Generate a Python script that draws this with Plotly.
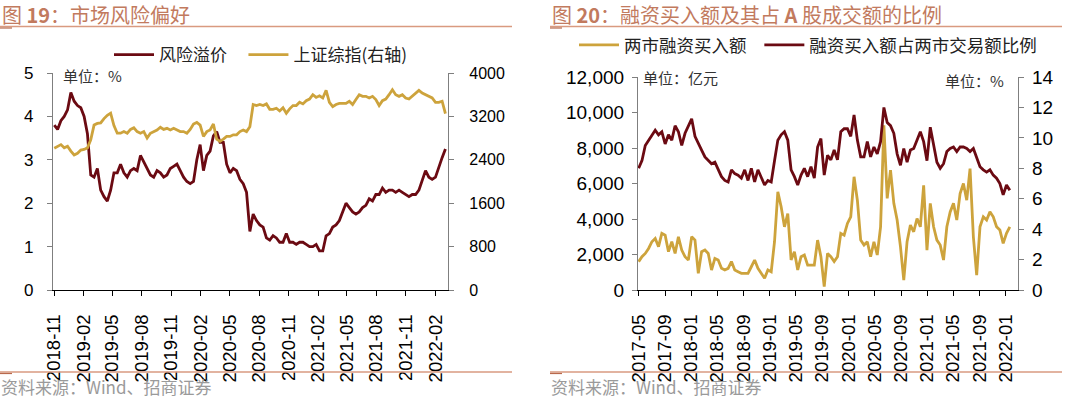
import pandas as pd
import plotly.graph_objects as go
from plotly.subplots import make_subplots

# ---------------- Left panel data (图19) ----------------
left_start = "2018-11-01"
left_end = "2022-03-04"
risk_premium = [
    3.80, 3.70, 3.90, 4.00, 4.15, 4.55, 4.35, 4.25, 4.20, 4.00,
    3.60, 2.65, 2.60, 2.80, 2.30, 2.15, 2.05, 2.30, 2.70, 2.70,
    2.90, 2.70, 2.60, 2.75, 2.80, 2.75, 3.10, 2.95, 2.80, 2.65,
    2.60, 2.75, 2.70, 2.60, 2.65, 2.80, 2.85, 2.90, 2.75, 2.60,
    2.50, 2.45, 2.50, 3.00, 3.35, 2.75, 3.10, 3.20, 3.55, 3.65,
    3.40, 3.40, 2.90, 2.70, 2.80, 2.75, 2.55, 2.45, 2.25, 1.35,
    1.75, 1.60, 1.50, 1.45, 1.20, 1.15, 1.25, 1.20, 1.10, 1.10,
    1.30, 1.10, 1.10, 1.05, 1.10, 1.10, 1.05, 1.00, 1.00, 1.05,
    0.90, 0.90, 1.25, 1.30, 1.45, 1.50, 1.60, 1.80, 2.00, 1.90,
    1.80, 1.75, 1.80, 1.90, 1.95, 2.10, 2.05, 2.20, 2.20, 2.35,
    2.25, 2.30, 2.30, 2.25, 2.30, 2.25, 2.20, 2.15, 2.20, 2.20,
    2.30, 2.55, 2.75, 2.60, 2.55, 2.60, 2.85, 3.05, 3.25,
]
sse_index = [
    2615, 2650, 2680, 2620, 2650, 2560, 2490, 2520, 2580, 2590,
    2620, 2770, 3040, 3070, 3080, 3160, 3220, 3260, 3030, 2890,
    2890, 2920, 2890, 2960, 2990, 2920, 2890, 2920, 2800, 2890,
    2920, 2950, 3000, 2960, 2980, 2950, 2980, 2950, 2920, 2920,
    2890, 2960, 3060, 3090, 3040, 2830, 2920, 2950, 3060, 2780,
    2740, 2780, 2830, 2830, 2860, 2860, 2920, 2950, 2920, 3010,
    3420, 3400, 3420, 3400, 3430, 3330, 3330, 3350, 3300, 3360,
    3260, 3340, 3400, 3400, 3460, 3430, 3490, 3520, 3600, 3550,
    3580, 3540, 3680, 3460, 3380, 3420, 3440, 3440, 3440, 3480,
    3420, 3510, 3600, 3570, 3570, 3540, 3570, 3510, 3400, 3490,
    3520, 3600, 3690, 3600, 3570, 3600, 3540, 3520, 3570, 3630,
    3680, 3630, 3600, 3570, 3540, 3460, 3460, 3480, 3250,
]

# ---------------- Right panel data (图20) ----------------
right_start = "2017-05-01"
right_end = "2022-01-19"
margin_buy = [
    1600, 1875, 2060, 2340, 2720, 2900, 2440, 3190, 3090, 2160,
    2720, 2060, 3000, 2250, 1875, 1690, 3000, 2810, 940, 2160,
    2250, 2060, 1125, 1780, 1690, 1220, 1125, 1220, 1600, 1125,
    1030, 940, 940, 940, 1310, 1690, 1220, 940, 660, 1125,
    1030, 2720, 5530, 4690, 3560, 4310, 1690, 2160, 1125, 1875,
    1970, 1400, 1400, 1400, 2810, 1875, 190, 2060, 1875, 1600,
    1875, 3190, 3090, 3750, 4125, 6380, 5060, 2810, 2530, 2720,
    1875, 2720, 1970, 3560, 9280, 5160, 6750, 4880, 3940, 2440,
    560, 2720, 3660, 3280, 4030, 3560, 5900, 2250, 4880, 3560,
    2810, 2530, 1690, 3560, 4400, 4880, 3940, 5440, 6000, 5060,
    6840, 3000, 840, 3560, 4125, 3940, 4400, 4125, 3560, 3375,
    2625, 3190, 3560,
]
margin_ratio = [
    8.00, 8.50, 9.50, 9.85, 10.2, 10.5, 10.2, 10.4, 9.60, 10.2,
    9.85, 10.8, 10.4, 9.50, 10.3, 10.8, 11.25, 10.1, 9.60, 9.20,
    8.75, 8.50, 8.30, 8.40, 7.90, 7.45, 7.20, 7.10, 7.90, 7.65,
    7.55, 7.35, 7.90, 7.20, 8.00, 7.10, 7.90, 7.45, 6.90, 7.20,
    7.10, 8.50, 9.85, 10.2, 10.4, 9.85, 7.90, 7.45, 6.90, 7.55,
    8.00, 7.45, 8.10, 7.35, 9.40, 9.95, 7.55, 8.85, 8.55, 9.20,
    8.55, 10.4, 10.6, 10.6, 10.1, 11.5, 9.85, 8.75, 8.75, 9.75,
    8.75, 9.40, 8.95, 9.75, 12.0, 11.0, 10.8, 10.3, 8.95, 8.20,
    9.30, 8.40, 9.20, 9.30, 9.85, 10.4, 9.75, 8.50, 10.7, 9.50,
    8.40, 8.00, 8.30, 9.10, 9.30, 9.40, 9.10, 9.40, 9.40, 9.30,
    9.10, 9.30, 8.75, 8.10, 7.90, 7.75, 7.90, 7.55, 7.35, 7.00,
    6.25, 6.90, 6.55,
]

left_dates = pd.date_range(left_start, left_end, periods=len(risk_premium))
left_dates_sse = pd.date_range(left_start, left_end, periods=len(sse_index))
right_dates = pd.date_range(right_start, right_end, periods=len(margin_buy))
right_dates_ratio = pd.date_range(right_start, right_end, periods=len(margin_ratio))

RED = "#6B0A12"
GOLD = "#CDA33C"
TITLE_C = "#C27A5E"
FONT = "'Liberation Sans', Arial, 'Noto Sans CJK SC', sans-serif"
CJK = "'Noto Sans CJK SC', 'Liberation Sans', sans-serif"
NB = "\u00a0"

fig = make_subplots(rows=1, cols=2, specs=[[{"secondary_y": True}, {"secondary_y": True}]])

LW = 2.8
fig.add_trace(go.Scatter(x=left_dates, y=risk_premium, name="风险溢价" + NB * 3, mode="lines",
                         line=dict(color=RED, width=LW), legend="legend"),
              row=1, col=1, secondary_y=False)
fig.add_trace(go.Scatter(x=left_dates_sse, y=sse_index, name="上证综指(右轴)", mode="lines",
                         line=dict(color=GOLD, width=LW), legend="legend"),
              row=1, col=1, secondary_y=True)
fig.add_trace(go.Scatter(x=right_dates, y=margin_buy, name="两市融资买入额" + NB * 2, mode="lines",
                         line=dict(color=GOLD, width=LW), legend="legend2"),
              row=1, col=2, secondary_y=False)
fig.add_trace(go.Scatter(x=right_dates_ratio, y=margin_ratio, name="融资买入额占两市交易额比例", mode="lines",
                         line=dict(color=RED, width=LW), legend="legend2"),
              row=1, col=2, secondary_y=True)

H = 398.0
W = 1080.0
def py(p):
    return 1 - p / H
def px(p):
    return p / W

ydom_l = [py(290), py(73)]
ydom_r = [py(290), py(77)]

axis_common = dict(showgrid=False, zeroline=False, showline=True, ticks="outside",
                   ticklen=5, tickcolor="#7F7F7F", linecolor="#7F7F7F", linewidth=1.2,
                   automargin=False)
xaxis_common = dict(axis_common, linecolor="#000000", tickcolor="#000000",
                    type="date", tickformat="%Y-%m", tickangle=-90, ticklabelstandoff=11,
                    tickfont=dict(size=18.5, family=FONT))

fig.update_layout(
    width=1080, height=398,
    margin=dict(l=0, r=0, t=0, b=0, autoexpand=False),
    paper_bgcolor="white", plot_bgcolor="white",
    font=dict(family=FONT, color="#000000"),
    xaxis=dict(domain=[px(53), px(448)], range=["2018-10-28", "2022-03-12"],
               tick0="2018-11-01", dtick="M3", **xaxis_common),
    yaxis=dict(domain=ydom_l, range=[0, 5], dtick=1, tickfont=dict(size=17),
               ticklabelstandoff=10, **axis_common),
    yaxis2=dict(range=[0, 4000], dtick=800, tickfont=dict(size=16),
                ticklabelstandoff=12, **axis_common),
    xaxis2=dict(domain=[px(638), px(1018)], range=["2017-04-28", "2022-02-26"],
                tick0="2017-05-01", dtick="M4", **xaxis_common),
    yaxis3=dict(domain=ydom_r, range=[0, 12000], dtick=2000, tickformat=",",
                tickfont=dict(size=19), ticklabelstandoff=4, **axis_common),
    yaxis4=dict(range=[0, 14], dtick=2, tickfont=dict(size=19),
                ticklabelstandoff=4, **axis_common),
    legend=dict(orientation="h", x=px(109), y=py(37), xanchor="left", yanchor="top",
                font=dict(size=17, family=CJK, color="#222222"), bgcolor="rgba(0,0,0,0)",
                itemwidth=40, tracegroupgap=0),
    legend2=dict(orientation="h", x=px(574), y=py(27), xanchor="left", yanchor="top",
                 font=dict(size=17.5, family=CJK, color="#222222"), bgcolor="rgba(0,0,0,0)",
                 itemwidth=40, tracegroupgap=0),
)

fig.layout.yaxis2.update(overlaying="y", side="right", anchor="x")
fig.layout.yaxis4.update(overlaying="y3", side="right", anchor="x2")
fig.layout.yaxis3.update(anchor="x2")
fig.layout.xaxis2.update(anchor="y3")

annotations = [
    dict(x=px(1), y=py(14), text="图 <b>19</b>：市场风险偏好", font=dict(size=20, color=TITLE_C, family=CJK)),
    dict(x=px(551), y=py(14), text="图 <b>20</b>：融资买入额及其占 <b>A</b> 股成交额的比例", font=dict(size=20, color=TITLE_C, family=CJK)),
    dict(x=px(62), y=py(75), text="单位：%", font=dict(size=15, color="#333333", family=CJK)),
    dict(x=px(642), y=py(78), text="单位：亿元", font=dict(size=15, color="#333333", family=CJK)),
    dict(x=px(944), y=py(81), text="单位：%", font=dict(size=15, color="#333333", family=CJK)),
    dict(x=px(0), y=py(386), text="资料来源：Wind、招商证券", font=dict(size=17, color="#9A9A9A", family=CJK)),
    dict(x=px(550), y=py(386), text="资料来源：Wind、招商证券", font=dict(size=17, color="#9A9A9A", family=CJK)),
]
for a in annotations:
    fig.add_annotation(xref="paper", yref="paper", xanchor="left", yanchor="middle",
                       showarrow=False, borderpad=0, **a)

LINE_C = "#D99A80"
DARK_C = "#B8694C"
for x0, x1 in [(0, 512), (550, 1062)]:
    for yy in (26.5, 372):
        fig.add_shape(type="line", xref="paper", yref="paper", x0=px(x0), x1=px(x1),
                      y0=py(yy), y1=py(yy), line=dict(color=LINE_C, width=1.5))
        fig.add_shape(type="line", xref="paper", yref="paper", x0=px(x0), x1=px(x0 + 12),
                      y0=py(yy + 1.5), y1=py(yy + 1.5), line=dict(color=DARK_C, width=1.2))

fig.write_html("out.html", config={"displayModeBar": False},
               post_script="document.body.style.margin='0px';")
